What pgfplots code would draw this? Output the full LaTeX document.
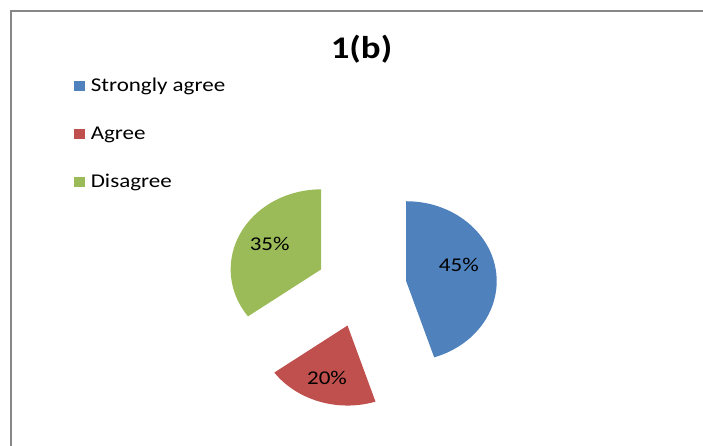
\documentclass[border=0pt]{standalone}
\usepackage{pgfplots}
\pgfplotsset{compat=1.18}
\usepackage{pgfplotstable}
\usepackage{fontspec}
\setmainfont{Carlito}
\definecolor{sblue}{HTML}{4F81BD}
\definecolor{sred}{HTML}{C0504D}
\definecolor{sgreen}{HTML}{9BBB59}
\definecolor{framegray}{HTML}{878787}

% slice data: name, value (%), colour, label position (x, baseline y)
\pgfplotstableread[col sep=comma]{
name,value,colr,lx,ly
Strongly agree,45,sblue,458.8,174
Agree,20,sred,327,61
Disagree,35,sgreen,269.7,195
}\piedata

\begin{document}
\begin{tikzpicture}
\useasboundingbox (0,0) rectangle (703pt,446pt);
\begin{axis}[
  at={(0,0)}, anchor=south west,
  x=1pt, y=1pt,
  xmin=0, xmax=703, ymin=0, ymax=446,
  hide axis, clip=false,
]
\pgfplotsextra{
  \draw[framegray, line width=2pt] (11,-5) -- (11,435) -- (703,435);
  \node[font=\bfseries\fontsize{31.5}{36}\selectfont, anchor=base, inner sep=0pt, xscale=1.17]
     at (361.5,387.5) {1(b)};
  \def\cx{361.5}\def\cy{158.5}
  \def\rx{90.5}\def\ry{80}\def\expl{0.5}
  \xdef\curang{90}
  \foreach \i in {0,1,2}{
    \pgfplotstablegetelem{\i}{value}\of\piedata \let\sval\pgfplotsretval
    \pgfplotstablegetelem{\i}{colr}\of\piedata \let\scol\pgfplotsretval
    \pgfplotstablegetelem{\i}{name}\of\piedata \let\sname\pgfplotsretval
    \pgfplotstablegetelem{\i}{lx}\of\piedata \let\slx\pgfplotsretval
    \pgfplotstablegetelem{\i}{ly}\of\piedata \let\sly\pgfplotsretval
    \pgfmathsetmacro\aone{\curang}
    \pgfmathsetmacro\atwo{\curang-3.6*\sval}
    \pgfmathsetmacro\amid{(\aone+\atwo)/2}
    \pgfmathsetmacro\vx{\cx+\expl*\rx*cos(\amid)}
    \pgfmathsetmacro\vy{\cy+\expl*\ry*sin(\amid)}
    \pgfmathsetmacro\dx{\rx*cos(\aone)}
    \pgfmathsetmacro\dy{\ry*sin(\aone)}
    \fill[\scol] (\vx,\vy) -- ++(\dx pt,\dy pt)
       arc[start angle=\aone, end angle=\atwo, x radius=\rx pt, y radius=\ry pt] -- cycle;
    \node[font=\fontsize{19.5}{22}\selectfont, anchor=base, inner sep=0pt, xscale=1.18]
       at (\slx,\sly) {\sval\%};
    % legend entry
    \pgfmathsetmacro\lgy{354.5-48*\i}
    \fill[\scol] (74,\lgy+0.8) rectangle (85,\lgy+10.8);
    \node[font=\fontsize{19.5}{22}\selectfont, anchor=base west, inner sep=0pt, xscale=1.18]
       at (90.6,\lgy) {\sname};
    \xdef\curang{\atwo}
  }
}
\end{axis}
\end{tikzpicture}
\end{document}
